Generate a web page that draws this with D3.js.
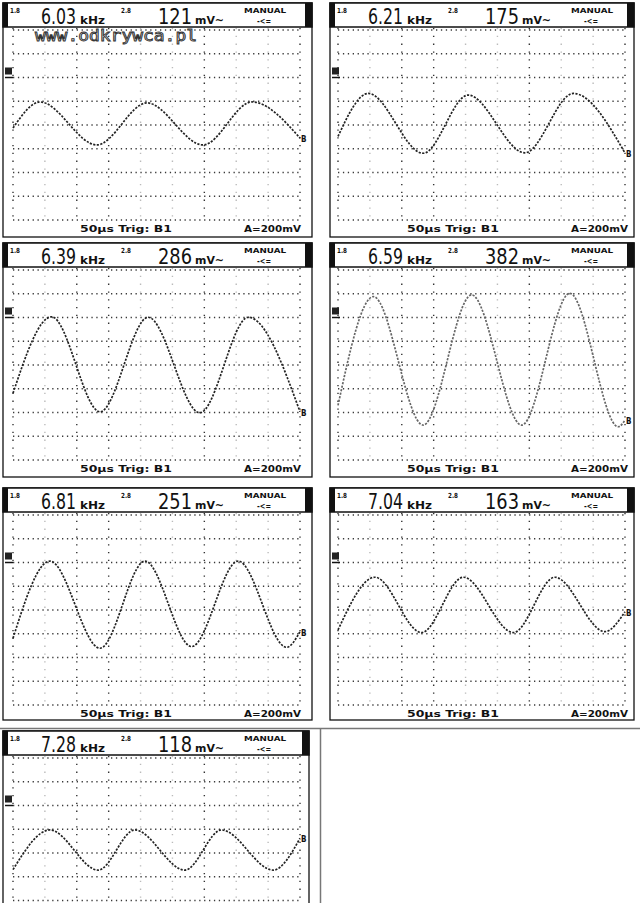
<!DOCTYPE html>
<html><head><meta charset="utf-8">
<script src="https://cdn.jsdelivr.net/npm/d3@7"></script>
<style>html,body{margin:0;padding:0;background:#fff;} svg{display:block}</style>
</head><body>
<svg id="c" width="640" height="903"></svg>
<script>
// Readouts shown in each screen header
const freqs = ["6.03", "6.21", "6.39", "6.59", "6.81", "7.04", "7.28"];
const amps  = ["121", "175", "286", "382", "251", "163", "118"];
const timebase = "50\u00b5s  Trig: B1";
const range = "A=200mV";
// Traces: time in divisions (0..9), level in divisions above the bottom grid line (0..8)
const t1 = [0, 0.85, 2.63, 4.20, 5.96, 7.49, 9.0];
const v1 = [3.87, 4.97, 3.16, 4.93, 3.16, 4.97, 3.45];
const t2 = [0, 0.95, 2.67, 4.08, 5.86, 7.38, 9.0];
const v2 = [3.52, 5.33, 2.81, 5.26, 2.83, 5.33, 2.82];
const t3 = [0, 1.21, 2.73, 4.24, 5.86, 7.38, 9.0];
const v3 = [2.81, 6.03, 2.03, 6.01, 1.99, 6.01, 2.03];
const t4 = [0, 1.11, 2.67, 4.19, 5.76, 7.27, 8.79, 9.0];
const v4 = [2.3, 6.88, 1.47, 6.95, 1.47, 7.02, 1.40, 1.68];
const t5 = [0, 1.16, 2.73, 4.14, 5.60, 7.06, 8.58, 9.0];
const v5 = [2.81, 6.06, 2.39, 6.06, 2.46, 6.06, 2.43, 3.09];
const t6 = [0, 1.16, 2.62, 3.93, 5.50, 6.80, 8.37, 9.0];
const v6 = [3.16, 5.38, 3.05, 5.38, 3.05, 5.38, 3.09, 3.93];
const t7 = [0, 1.16, 2.67, 3.82, 5.39, 6.54, 8.16, 9.0];
const v7 = [3.3, 4.97, 3.28, 4.97, 3.28, 4.97, 3.28, 4.62];
const traceT = [t1, t2, t3, t4, t5, t6, t7];
const traceV = [v1, v2, v3, v4, v5, v6, v7];
const xDivs = d3.range(0, 10);
const yDivs = d3.range(0, 9);

const svg = d3.select("#c");
const layout = [
  {x:3, y:3, w:309, h:234, g:10},
  {x:330, y:3, w:304, h:234, g:8},
  {x:3, y:243, w:309, h:234, g:10},
  {x:330, y:243, w:304, h:234, g:8},
  {x:3, y:488, w:309, h:232, g:10},
  {x:330, y:488, w:304, h:232, g:8},
  {x:3, y:731, w:306, h:234, g:10}
];
const FONT = "'DejaVu Sans Condensed','DejaVu Sans',sans-serif";
const darkCols = new Set([0, 2, 3, 6, 9]);

// separators
svg.append("line").attr("x1", 0).attr("x2", 640).attr("y1", 728.5).attr("y2", 728.5)
  .attr("stroke", "#777").attr("stroke-width", 1.5);
svg.append("line").attr("x1", 320.5).attr("x2", 320.5).attr("y1", 728).attr("y2", 903)
  .attr("stroke", "#777").attr("stroke-width", 1.5);

layout.forEach((L, i) => {
  const g = svg.append("g");
  const gx0 = L.x + L.g, gx1 = gx0 + 287;
  const gy0 = L.y + 27, gy1 = gy0 + 190;
  const x = d3.scaleLinear().domain([0, 9]).range([gx0, gx1]);
  const y = d3.scaleLinear().domain([0, 8]).range([gy1, gy0]);

  g.append("rect").attr("x", L.x).attr("y", L.y).attr("width", L.w).attr("height", L.h)
    .attr("fill", "#fff").attr("stroke", "#111").attr("stroke-width", 1.3);

  // grid
  g.selectAll(".hr").data(yDivs).join("line")
    .attr("x1", gx0).attr("x2", gx1).attr("y1", d => y(d)).attr("y2", d => y(d))
    .attr("stroke", "#3a3a3a").attr("stroke-width", 1.4).attr("stroke-dasharray", "1.3,3.6");
  g.selectAll(".vr").data(xDivs).join("line")
    .attr("x1", d => x(d)).attr("x2", d => x(d)).attr("y1", gy0 - 2).attr("y2", gy1 + 2)
    .attr("stroke", d => darkCols.has(d) ? "#333" : "#bbb").attr("stroke-width", 1.4)
    .attr("stroke-dasharray", "1.3,6.5");

  // header
  g.append("rect").attr("x", L.x).attr("y", L.y).attr("width", L.w).attr("height", 24)
    .attr("fill", "#fff").attr("stroke", "#111").attr("stroke-width", 1.5);
  g.append("rect").attr("x", L.x).attr("y", L.y).attr("width", 5).attr("height", 24).attr("fill", "#111");
  g.append("rect").attr("x", L.x + L.w - 7).attr("y", L.y).attr("width", 7).attr("height", 24).attr("fill", "#111");
  const txt = (s, tx, ty, size, len, weight, sy) => {
    const t = g.append("text").attr("x", 0).attr("y", 0).text(s)
      .attr("transform", `translate(${tx},${ty}) scale(1,${sy || 1})`)
      .attr("font-family", FONT).attr("font-size", size).attr("fill", "#111")
      .attr("font-weight", weight || "normal");
    if (len) t.attr("textLength", len).attr("lengthAdjust", "spacingAndGlyphs");
    return t;
  };
  txt("1.8", L.x + 7, L.y + 10, 7, 10, "bold");
  txt(freqs[i], L.x + 38, L.y + 21, 14, 35, "normal", 1.55);
  txt("kHz", L.x + 77, L.y + 21, 9, 25, "bold", 1.2);
  txt("2.8", L.x + 118, L.y + 10, 7, 10, "bold");
  txt(amps[i], L.x + 155, L.y + 21, 14, 34, "normal", 1.55);
  txt("mV~", L.x + 192, L.y + 21, 9, 29, "bold", 1.2);
  txt("MANUAL", L.x + 241, L.y + 10, 7, 42, "bold");
  txt("-<=", L.x + 254, L.y + 21, 8, 14, "bold");

  // bottom readouts
  if (i < 6) {
    txt(timebase, L.x + 77, L.y + 229, 9, 92, "bold");
    txt(range, L.x + 241, L.y + 229, 9, 57, "bold");
  }

  // ground marker
  g.append("rect").attr("x", L.x + 2).attr("y", y(6) - 10).attr("width", 7).attr("height", 7).attr("fill", "#222");
  g.append("line").attr("x1", L.x + 2).attr("x2", L.x + 10).attr("y1", y(6)).attr("y2", y(6))
    .attr("stroke", "#111").attr("stroke-width", 1.5);

  // trace
  const pts = traceT[i].map((t, k) => [t, traceV[i][k]]);
  const line = d3.line().x(d => x(d[0])).y(d => y(d[1])).curve(d3.curveMonotoneX);
  g.append("path").attr("d", line(pts)).attr("fill", "none")
    .attr("stroke", i === 3 ? "#666" : "#222").attr("stroke-width", 1.7)
    .attr("stroke-dasharray", "2.2,1.4");
  const last = pts[pts.length - 1];
  txt("B", x(last[0]) + 1, y(last[1]) + 4, 8, null, "bold");
});

// watermark
svg.append("text").attr("x", 35).attr("y", 41).text("www.odkrywca.pl")
  .attr("font-family", "'DejaVu Sans Mono',monospace").attr("font-size", 15)
  .attr("transform", "translate(0,-5) scale(1,1.12)").attr("transform", null)
  .attr("textLength", 162).attr("lengthAdjust", "spacingAndGlyphs")
  .attr("fill", "#fff").attr("stroke", "#333").attr("stroke-width", 0.9);
</script>
</body></html>
